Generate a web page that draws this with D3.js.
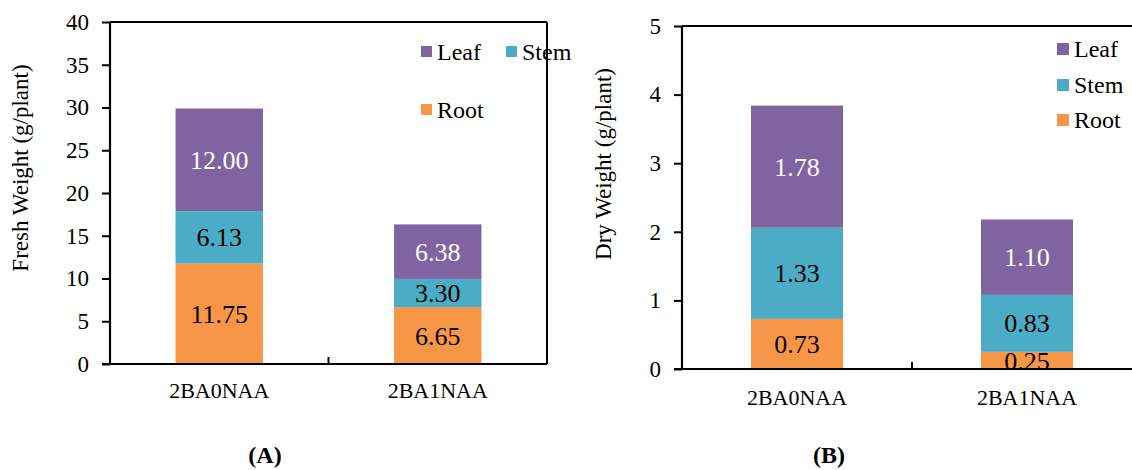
<!DOCTYPE html>
<html>
<head>
<meta charset="utf-8">
<script src="https://cdn.jsdelivr.net/npm/d3@7"></script>
<style>
  html, body { margin: 0; padding: 0; background: #fff; }
  svg { display: block; font-family: "Liberation Serif", "Times New Roman", serif; }
</style>
</head>
<body>
<svg id="chart" width="1132" height="470"></svg>
<script>
// ---- data ----
const categories = ["2BA0NAA", "2BA1NAA"];
const seriesNames = ["Root", "Stem", "Leaf"];
const freshRoot = [11.75, 6.65];
const freshStem = [6.13, 3.30];
const freshLeaf = [12.00, 6.38];
const dryRoot = [0.73, 0.25];
const dryStem = [1.33, 0.83];
const dryLeaf = [1.78, 1.10];
const freshTicks = [0, 5, 10, 15, 20, 25, 30, 35, 40];
const dryTicks = [0, 1, 2, 3, 4, 5];
const panelTitles = ["(A)", "(B)"];
const yTitles = ["Fresh Weight (g/plant)", "Dry Weight (g/plant)"];

const colors = { Root: "#F79646", Stem: "#4BACC6", Leaf: "#8064A2" };
const labelColors = { Root: "#000", Stem: "#000", Leaf: "#fff" };
const FONT = "Liberation Serif, Times New Roman, serif";

const svg = d3.select("#chart");

function buildRows(root, stem, leaf) {
  return categories.map((c, i) => ({ cat: c, Root: root[i], Stem: stem[i], Leaf: leaf[i] }));
}

function drawPanel(cfg) {
  const { id, rows, ticks, maxY, x0, x1, yTop, yBot, yTitle, yTitleX, yTitleY, title, titleX, legend, xPad } = cfg;
  const g = svg.append("g");
  const x = d3.scaleBand().domain(categories).range([x0, x1]).paddingInner(0.6).paddingOuter(0.3);
  const y = d3.scaleLinear().domain([0, maxY]).range([yBot, yTop]);

  const stacked = d3.stack().keys(seriesNames)(rows);

  g.append("clipPath").attr("id", "clip" + id)
    .append("rect").attr("x", x0).attr("y", yTop).attr("width", x1 - x0).attr("height", yBot - yTop);

  const layers = g.selectAll(".layer").data(stacked).join("g")
    .attr("fill", d => colors[d.key]);
  layers.selectAll("rect").data(d => d).join("rect")
    .attr("x", d => x(d.data.cat))
    .attr("width", x.bandwidth())
    .attr("y", d => y(d[1]))
    .attr("height", d => y(d[0]) - y(d[1]));

  // data labels
  const lbl = g.append("g").attr("clip-path", "url(#clip" + id + ")");
  stacked.forEach(layer => {
    layer.forEach(d => {
      lbl.append("text")
        .attr("x", x(d.data.cat) + x.bandwidth() / 2)
        .attr("y", (y(d[0]) + y(d[1])) / 2)
        .attr("dy", "0.35em")
        .attr("text-anchor", "middle")
        .attr("font-family", FONT)
        .attr("font-size", 26)
        .attr("fill", labelColors[layer.key])
        .text(d3.format(".2f")(d.data[layer.key]));
    });
  });

  // frame: top and right
  g.append("line").attr("x1", x0).attr("x2", x1).attr("y1", yTop).attr("y2", yTop)
    .attr("stroke", "#000").attr("stroke-width", 2);
  g.append("line").attr("x1", x1).attr("x2", x1).attr("y1", yTop).attr("y2", yBot)
    .attr("stroke", "#000").attr("stroke-width", 2);

  // y axis
  const yAxis = d3.axisLeft(y).tickValues(ticks).tickSize(8).tickPadding(13).tickFormat(d3.format("d"));
  const ya = g.append("g").attr("transform", `translate(${x0},0)`).call(yAxis);
  ya.select(".domain").attr("stroke-width", 2.2).attr("d", `M0,${yTop}V${yBot}`);
  ya.selectAll(".tick line").attr("stroke-width", 2);
  ya.selectAll(".tick text").attr("font-size", 23).attr("font-family", FONT).attr("fill", "#000");

  // x axis
  const xa = g.append("g").attr("transform", `translate(0,${yBot})`)
    .call(d3.axisBottom(x).tickSize(0).tickPadding(xPad));
  xa.select(".domain").attr("stroke-width", 2.2).attr("d", `M${x0 - 8},0H${x1}`);
  xa.selectAll(".tick text").attr("font-size", 22).attr("font-family", FONT).attr("fill", "#000");
  // inner category-separator ticks
  const seps = categories.slice(1).map((c, i) => (x(categories[i]) + x.bandwidth() + x(c)) / 2);
  xa.selectAll(".sep").data(seps).join("line").attr("class", "sep")
    .attr("x1", d => d).attr("x2", d => d).attr("y1", 0).attr("y2", -7)
    .attr("stroke", "#000").attr("stroke-width", 2);

  // y title
  g.append("text")
    .attr("transform", `translate(${yTitleX},${yTitleY}) rotate(-90)`)
    .attr("text-anchor", "middle")
    .attr("font-family", FONT)
    .attr("font-size", 23)
    .attr("fill", "#000")
    .text(yTitle);

  // panel title
  g.append("text").attr("x", titleX).attr("y", 463).attr("text-anchor", "middle")
    .attr("font-family", FONT)
    .attr("font-size", 24).attr("font-weight", "bold").attr("fill", "#000").text(title);

  // legend
  legend.forEach(item => {
    g.append("rect").attr("x", item.x).attr("y", item.y).attr("width", item.s).attr("height", item.s)
      .attr("fill", colors[item.key]);
    g.append("text").attr("x", item.x + item.s + 5).attr("y", item.y + item.s / 2).attr("dy", "0.35em")
      .attr("font-family", FONT)
      .attr("font-size", 24).attr("fill", "#000").text(item.key);
  });
}

drawPanel({
  id: "A",
  rows: buildRows(freshRoot, freshStem, freshLeaf),
  ticks: freshTicks, maxY: 40,
  x0: 110, x1: 547, yTop: 22, yBot: 364,
  yTitle: yTitles[0], yTitleX: 28, yTitleY: 168,
  title: panelTitles[0], titleX: 265, xPad: 18,
  legend: [
    { key: "Leaf", x: 421, y: 46, s: 11 },
    { key: "Stem", x: 506, y: 46, s: 11 },
    { key: "Root", x: 421, y: 104, s: 11 }
  ]
});

drawPanel({
  id: "B",
  rows: buildRows(dryRoot, dryStem, dryLeaf),
  ticks: dryTicks, maxY: 5,
  x0: 682, x1: 1142, yTop: 26, yBot: 369,
  yTitle: yTitles[1], yTitleX: 611, yTitleY: 164,
  title: panelTitles[1], titleX: 829, xPad: 20,
  legend: [
    { key: "Leaf", x: 1057, y: 43, s: 12 },
    { key: "Stem", x: 1057, y: 79, s: 12 },
    { key: "Root", x: 1057, y: 114, s: 12 }
  ]
});
</script>
</body>
</html>
